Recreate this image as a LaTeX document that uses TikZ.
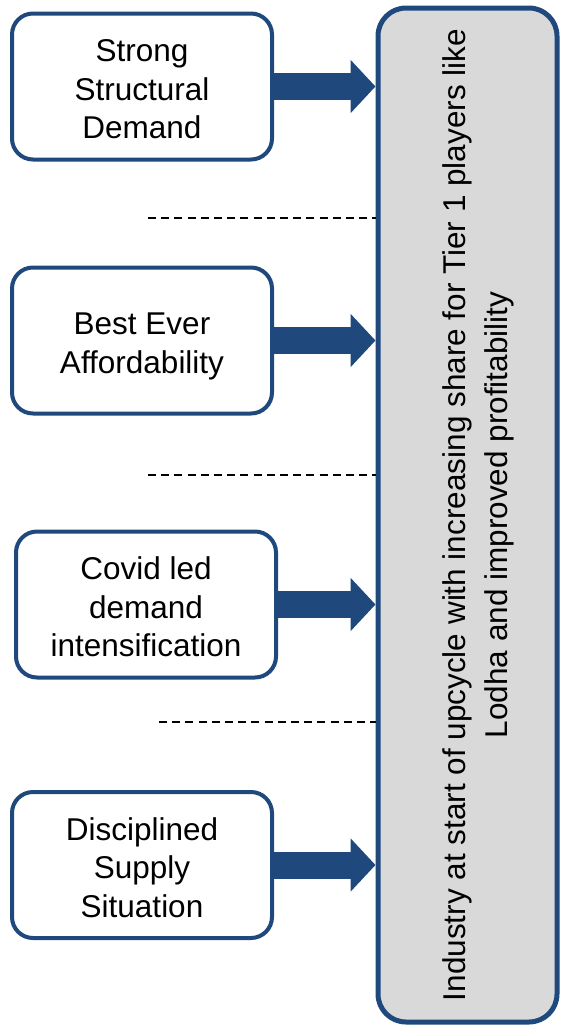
\documentclass[tikz,border=0pt]{standalone}
\usepackage{fontspec}
\setmainfont{Liberation Sans}
\usetikzlibrary{arrows.meta,calc}
\definecolor{navy}{HTML}{1F497D}
\definecolor{panel}{HTML}{D9D9D9}
\newcommand\fTop{\rule{0pt}{34pt}}
\newcommand\fBot{\rule[-7pt]{0pt}{7pt}}
\tikzset{
  factor/.style={draw=navy, line width=4pt, fill=white, rounded corners=21pt,
    minimum width=260pt, minimum height=146pt, align=center, inner sep=0pt,
    font=\fontsize{31.5}{38.5}\selectfont},
  bigbox/.style={draw=navy, line width=5pt, fill=panel, rounded corners=28pt,
    minimum width=179pt, minimum height=1014pt, inner sep=0pt},
  fatarrow/.style={draw=navy, line width=27pt,
    -{Triangle[length=25pt 0 0, width=52pt 0 0]}},
  sep/.style={draw=black, line width=2pt, dash pattern=on 8pt off 5.2pt}
}
\begin{document}
\begin{tikzpicture}[x=1pt,y=-1pt]
\useasboundingbox (0,0) rectangle (562,1029);
\node[bigbox] (big) at (467.5,515) {};
\node[rotate=90, align=center, inner sep=0pt,
  font=\fontsize{31.5}{42}\selectfont] (bigtxt) at (478,515)
  {Industry at start of upcycle with increasing share for Tier 1 players like\\Lodha and improved profitability};

\node[factor] (f1) at (142,86.5) {\fTop Strong\\Structural\\Demand\fBot};
\node[factor] (f2) at (142,340.5) {\fTop Best Ever\\Affordability\fBot};
\node[factor] (f3) at (146,604.5) {\fTop Covid led\\demand\\intensification\fBot};
\node[factor] (f4) at (142,865) {\fTop Disciplined\\Supply\\Situation\fBot};

\draw[fatarrow] (f1.east) -- (f1.east -| big.west);
\draw[fatarrow] (f2.east) -- (f2.east -| big.west);
\draw[fatarrow] (f3.east) -- (f3.east -| big.west);
\draw[fatarrow] (f4.east) -- (f4.east -| big.west);

\coordinate (d1) at (148,218);
\coordinate (d2) at (148,475);
\coordinate (d3) at (159,722);
\draw[sep] (d1) -- (d1 -| big.west);
\draw[sep] (d2) -- (d2 -| big.west);
\draw[sep] (d3) -- (d3 -| big.west);
\end{tikzpicture}
\end{document}
